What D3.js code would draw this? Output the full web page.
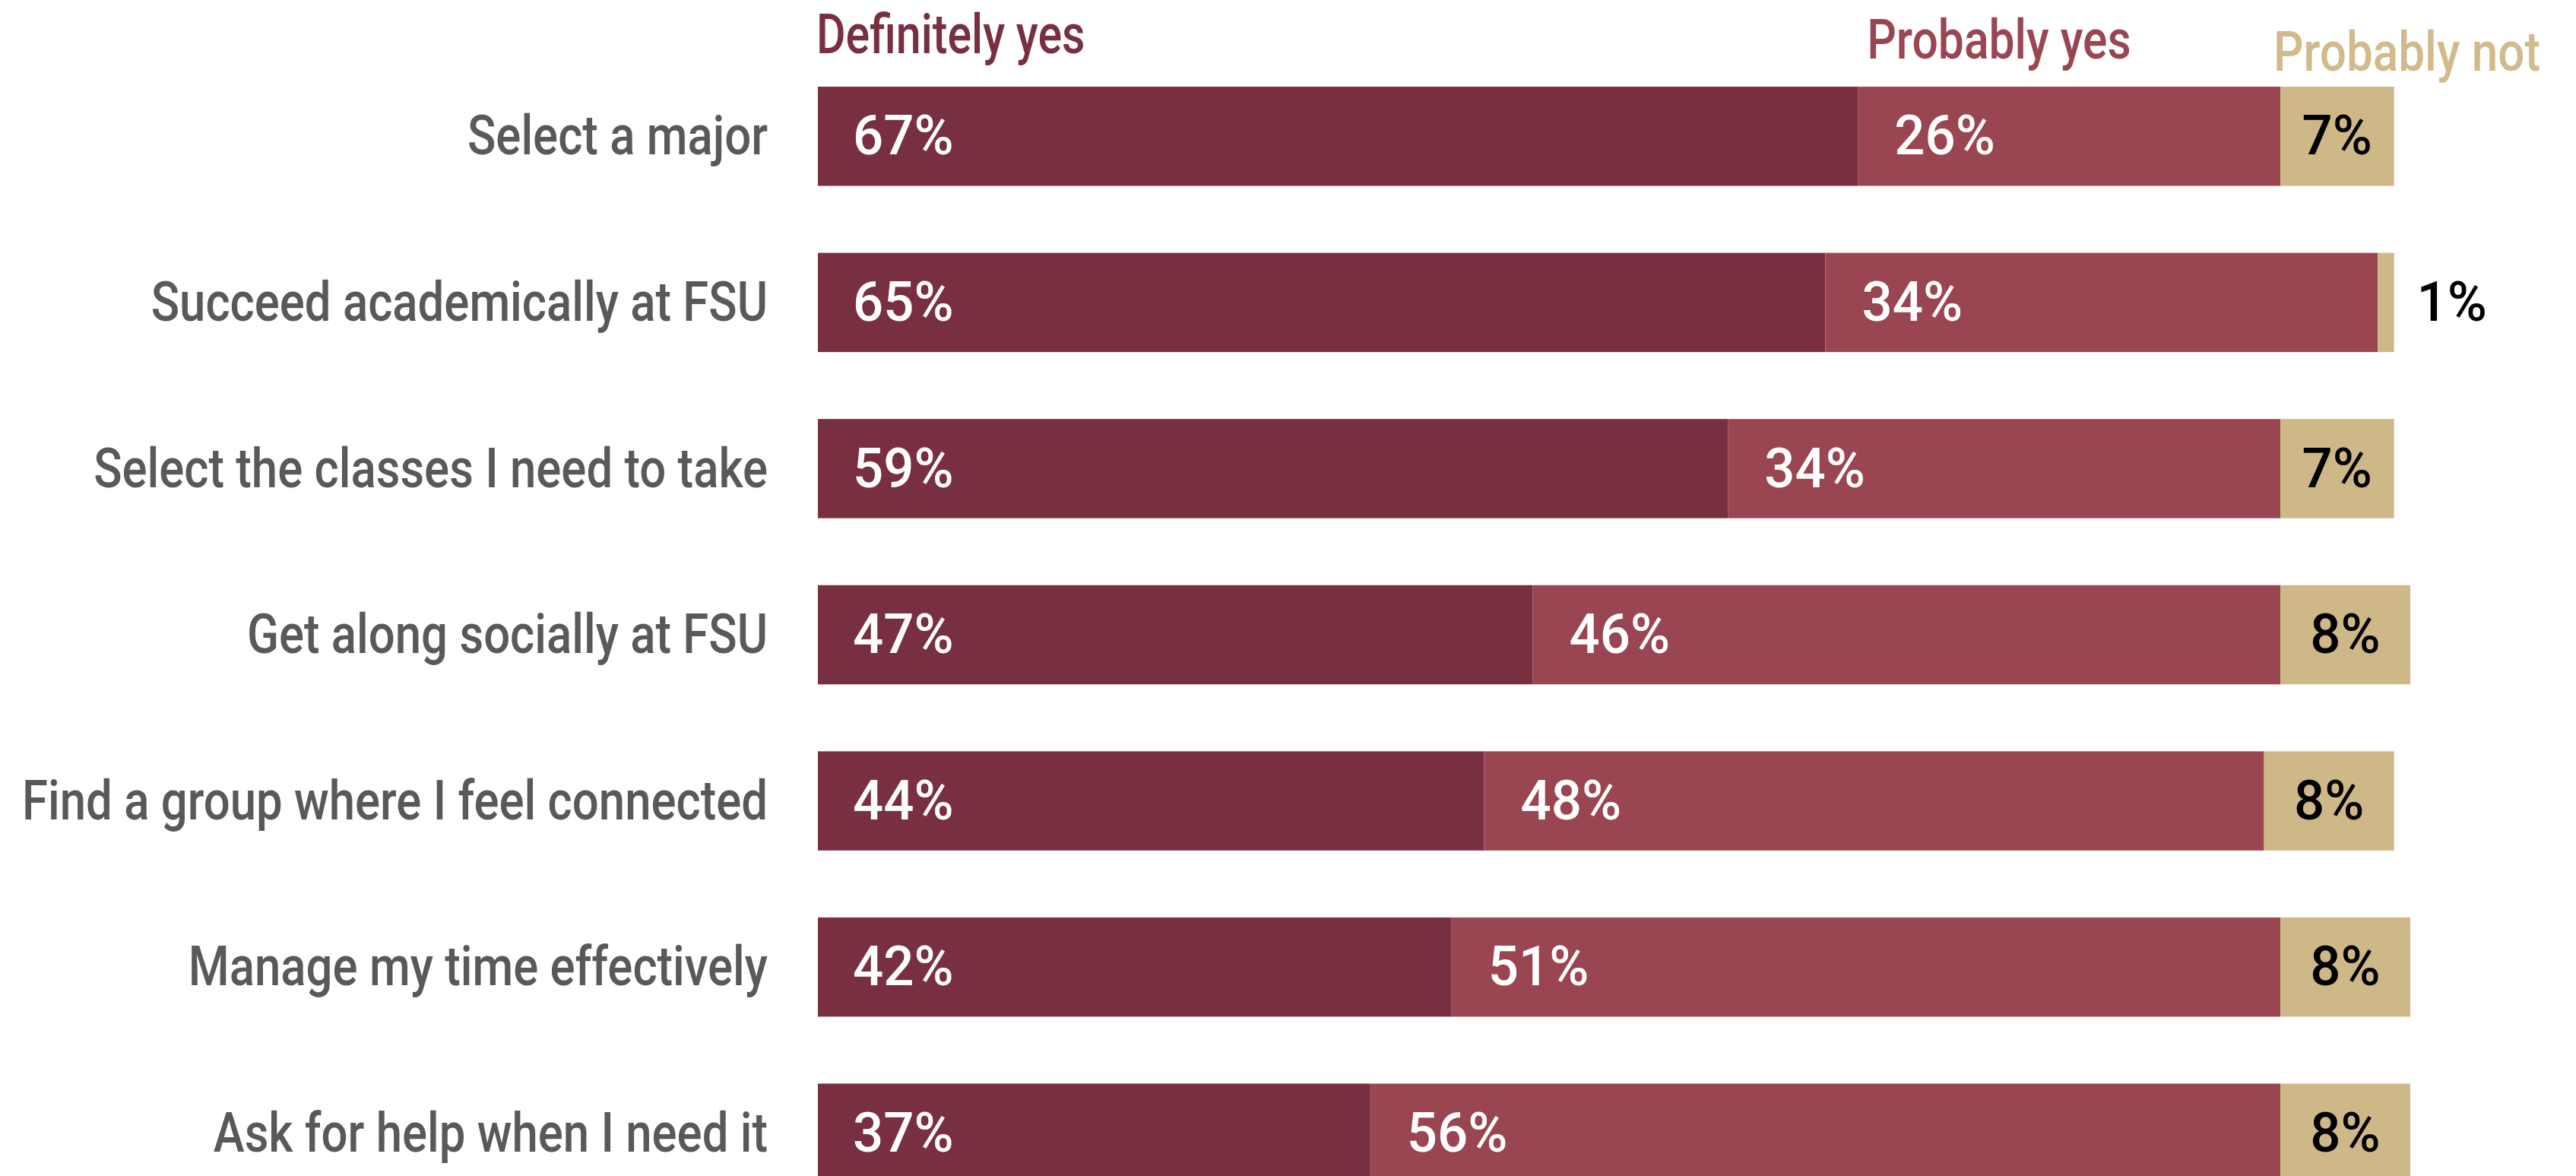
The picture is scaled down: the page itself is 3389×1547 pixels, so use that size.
<!DOCTYPE html>
<html>
<head>
<meta charset="utf-8">
<script src="https://cdn.jsdelivr.net/npm/d3@7"></script>
<style>
  html, body { margin: 0; padding: 0; background: #ffffff; }
  svg { display: block; }
  text { font-family: Roboto, "Liberation Sans", sans-serif; font-weight: 500; }
</style>
</head>
<body>
<svg id="chart" width="3389" height="1547"></svg>
<script>
// Survey items, top to bottom
const categories = [
  "Select a major",
  "Succeed academically at FSU",
  "Select the classes I need to take",
  "Get along socially at FSU",
  "Find a group where I feel connected",
  "Manage my time effectively",
  "Ask for help when I need it"
];

// Response shares (%)
const definitelyYes = [67, 65, 59, 47, 44, 42, 37];
const probablyYes   = [26, 34, 34, 46, 48, 51, 56];
const probablyNot   = [7, 1, 7, 8, 8, 8, 8];

const seriesNames = ["Definitely yes", "Probably yes", "Probably not"];

// ---------------------------------------------------------------
const W = 3389, H = 1547;
const colors = { "Definitely yes": "#782f40", "Probably yes": "#9a4652", "Probably not": "#ceb888" };
const legendColors = { "Definitely yes": "#782f40", "Probably yes": "#9a4652", "Probably not": "#d1bb8c" };
const FONT = 73;
const CATEGORY_SQUEEZE = 0.845; // narrow face look for words
const LEGEND_SQUEEZE = 0.83;
const DIGIT_SQUEEZE = 0.97;     // figures are a little wider

const svg = d3.select("#chart");

const rows = categories.map((c, i) => ({
  category: c,
  "Definitely yes": definitelyYes[i],
  "Probably yes": probablyYes[i],
  "Probably not": probablyNot[i]
}));

const stacked = d3.stack().keys(seriesNames)(rows);

// value axis starts slightly above zero, so the bars begin at the plot edge
const x = d3.scaleLinear().domain([3, 101]).range([1076, 3171]).clamp(true);
const y = d3.scaleBand().domain(categories).range([70, 1600])
  .paddingInner(0.403).paddingOuter(0.2015);

// helper: squeezed text anchored at (px, py)
function squeezedText(sel, px, py, k) {
  return sel.attr("transform", `translate(${px},${py}) scale(${k},1)`);
}

// bars
const layer = svg.append("g").selectAll("g.series")
  .data(stacked).join("g")
  .attr("class", "series")
  .attr("fill", d => colors[d.key]);

layer.selectAll("rect")
  .data(d => d.map(s => ({ key: d.key, s })))
  .join("rect")
  .attr("x", d => x(d.s[0]))
  .attr("y", d => y(d.s.data.category))
  .attr("width", d => x(d.s[1]) - x(d.s[0]))
  .attr("height", y.bandwidth());

// value labels
const labels = svg.append("g");
stacked.forEach(series => {
  series.forEach(s => {
    const v = s[1] - s[0];
    const cy = y(s.data.category) + y.bandwidth() / 2 + FONT * 0.33;
    const x0 = x(s[0]), x1 = x(s[1]);
    const t = labels.append("text")
      .attr("font-size", FONT)
      .attr("font-weight", 400)
      .text(v + "%");
    if (series.key === "Probably not") {
      t.attr("fill", "#000000");
      if (x1 - x0 > 60) {
        t.attr("text-anchor", "middle");
        squeezedText(t, (x0 + x1) / 2, cy, DIGIT_SQUEEZE);
      } else {
        t.attr("text-anchor", "start");
        squeezedText(t, x1 + 30, cy, DIGIT_SQUEEZE);
      }
    } else {
      t.attr("fill", "#ffffff").attr("text-anchor", "start");
      squeezedText(t, x0 + (series.key === "Definitely yes" ? 46 : 48), cy, DIGIT_SQUEEZE);
    }
  });
});

// category labels
const catG = svg.append("g");
categories.forEach(c => {
  const t = catG.append("text")
    .attr("font-size", FONT)
    .attr("fill", "#595959")
    .attr("text-anchor", "end")
    .text(c);
  squeezedText(t, 1010, y(c) + y.bandwidth() / 2 + FONT * 0.33, CATEGORY_SQUEEZE);
});

// series names sitting above the first row, each near the start of its segment
const first = stacked.map(s => s[0]);
const legendPos = [
  { dx: -2, base: 70, k: 0.81 },
  { dx: 12, base: 77, k: 0.83 },
  { dx: -9, base: 93, k: 0.85 }
];
seriesNames.forEach((name, i) => {
  const t = svg.append("text")
    .attr("font-size", FONT)
    .attr("fill", legendColors[name])
    .text(name);
  squeezedText(t, x(first[i][0]) + legendPos[i].dx, legendPos[i].base, legendPos[i].k);
});
</script>
</body>
</html>
